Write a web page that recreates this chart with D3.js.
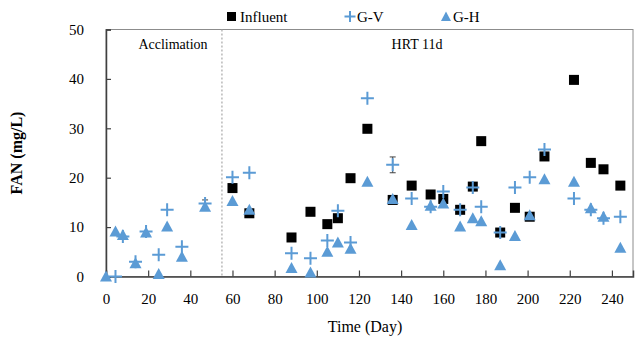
<!DOCTYPE html>
<html>
<head>
<meta charset="utf-8">
<script src="https://cdn.jsdelivr.net/npm/d3@7"></script>
<style>
  body { margin: 0; background: #fff; }
</style>
</head>
<body>
<figure id="chart" style="margin:0"></figure>
<script>
// Influent FAN (only measured in the HRT 11d phase)
const influentDay = [60, 68, 88, 97, 105, 110, 116, 124, 136, 145, 154, 160, 168, 174, 178, 187, 194, 201, 208, 222, 230, 236, 244];
const influentVal = [17.9, 12.8, 7.9, 13.1, 10.6, 11.8, 19.9, 29.9, 15.5, 18.4, 16.6, 15.7, 13.5, 18.2, 27.4, 8.9, 13.9, 12.1, 24.3, 39.8, 23.0, 21.7, 18.4];

// G-V reactor
const gvDay = [4.5, 8, 14, 19, 25, 29, 36, 47, 60, 68, 88, 97, 105, 110, 116, 124, 136, 145, 154, 160, 168, 174, 178, 187, 194, 201, 208, 222, 230, 236, 244];
const gvVal = [0, 8.1, 3.0, 9.1, 4.4, 13.5, 6.0, 14.8, 20.1, 21.0, 4.7, 3.7, 7.3, 13.3, 6.9, 36.1, 22.6, 15.8, 14.1, 17.2, 13.5, 18.0, 14.1, 8.9, 18.0, 20.1, 25.7, 15.8, 13.5, 11.8, 12.1];

// G-H reactor
const ghDay = [0, 4.5, 8, 14, 19, 25, 29, 36, 47, 60, 68, 88, 97, 105, 110, 116, 124, 136, 145, 154, 160, 168, 174, 178, 187, 194, 201, 208, 222, 230, 236, 244];
const ghVal = [0, 9.1, 8.4, 2.7, 8.9, 0.5, 10.1, 4.0, 14.1, 15.3, 13.5, 1.7, 0.8, 5.0, 6.9, 5.6, 19.2, 15.7, 10.4, 14.3, 14.8, 10.1, 11.8, 11.2, 2.3, 8.2, 12.4, 19.7, 19.2, 13.8, 12.1, 5.8];

// visible error bars (day, value, +/-)
const gvErrDay = [136, 47];
const gvErrVal = [22.6, 14.8];
const gvErr = [1.6, 0.7];

const xTicks = [0, 20, 40, 60, 80, 100, 120, 140, 160, 180, 200, 220, 240];
const yTicks = [0, 10, 20, 30, 40, 50];
const phaseSplit = 55;

const width = 638, height = 341;
const blue = '#5b9bd5';
const serif = '"Liberation Serif", "Times New Roman", serif';

const svg = d3.select('#chart').append('svg')
  .attr('width', width)
  .attr('height', height)
  .attr('font-family', serif);

const x = d3.scaleLinear().domain([0, 250]).range([106, 633]);
const y = d3.scaleLinear().domain([0, 50]).range([276.5, 29.5]);

// plot area border
svg.append('rect')
  .attr('x', x(0)).attr('y', y(50))
  .attr('width', x(250) - x(0)).attr('height', y(0) - y(50))
  .attr('fill', 'none').attr('stroke', '#8c8c8c').attr('stroke-width', 1);

// phase divider
svg.append('line')
  .attr('x1', x(phaseSplit)).attr('x2', x(phaseSplit))
  .attr('y1', y(50)).attr('y2', y(0))
  .attr('stroke', '#a6a6a6').attr('stroke-width', 1.2)
  .attr('stroke-dasharray', '2,2');

// axes
const xAxis = svg.append('g')
  .attr('transform', 'translate(0,' + y(0) + ')')
  .call(d3.axisBottom(x).tickValues(xTicks).tickSize(-6).tickPadding(17));
const yAxis = svg.append('g')
  .attr('transform', 'translate(' + x(0) + ',0)')
  .call(d3.axisLeft(y).tickValues(yTicks).tickSize(-5).tickPadding(22));
[xAxis, yAxis].forEach(a => {
  a.attr('font-family', serif);
  a.select('.domain').attr('stroke', '#404040').attr('stroke-width', 1.5);
  a.selectAll('.tick line').attr('stroke', '#404040').attr('stroke-width', 1.2);
  a.selectAll('text').style('font-family', serif).style('font-size', '15px').attr('fill', '#000');
});

// error bars
const eb = svg.append('g').attr('stroke', '#404040').attr('stroke-width', 1);
gvErrDay.forEach((d, i) => {
  const cx = x(d), lo = y(gvErrVal[i] - gvErr[i]), hi = y(gvErrVal[i] + gvErr[i]);
  eb.append('line').attr('x1', cx).attr('x2', cx).attr('y1', lo).attr('y2', hi);
  eb.append('line').attr('x1', cx - 3).attr('x2', cx + 3).attr('y1', lo).attr('y2', lo);
  eb.append('line').attr('x1', cx - 3).attr('x2', cx + 3).attr('y1', hi).attr('y2', hi);
});

// Influent squares
svg.append('g').selectAll('rect')
  .data(influentDay)
  .enter()
  .append('rect')
  .attr('x', (d) => x(d) - 5)
  .attr('y', (d, i) => y(influentVal[i]) - 5)
  .attr('width', 10).attr('height', 10)
  .attr('fill', '#000');

// G-V plus markers
svg.append('g').selectAll('path')
  .data(gvDay)
  .enter()
  .append('path')
  .attr('d', 'M-6.5,0H6.5M0,-6.5V6.5')
  .attr('transform', (d, i) => 'translate(' + x(d) + ',' + y(gvVal[i]) + ')')
  .attr('stroke', blue).attr('stroke-width', 2).attr('fill', 'none');

// G-H triangles
svg.append('g').selectAll('path')
  .data(ghDay)
  .enter()
  .append('path')
  .attr('d', 'M0,-6L6,5H-6Z')
  .attr('transform', (d, i) => 'translate(' + x(d) + ',' + y(ghVal[i]) + ')')
  .attr('fill', blue);

// phase labels
svg.append('text').attr('x', 173).attr('y', 49)
  .attr('text-anchor', 'middle').style('font-size', '14px').text('Acclimation');
svg.append('text').attr('x', 417).attr('y', 49)
  .attr('text-anchor', 'middle').style('font-size', '14px').text('HRT 11d');

// legend
const legend = svg.append('g').style('font-size', '15px');
legend.append('rect').attr('x', 227).attr('y', 12).attr('width', 9).attr('height', 9).attr('fill', '#000');
legend.append('text').attr('x', 240).attr('y', 21.5).text('Influent');
legend.append('path').attr('d', 'M-5.5,0H5.5M0,-5.5V5.5')
  .attr('transform', 'translate(350,16.5)').attr('stroke', blue).attr('stroke-width', 2);
legend.append('text').attr('x', 357).attr('y', 21.5).text('G-V');
legend.append('path').attr('d', 'M0,-5L5,4.5H-5Z')
  .attr('transform', 'translate(446,16.5)').attr('fill', blue);
legend.append('text').attr('x', 453).attr('y', 21.5).text('G-H');

// axis titles
svg.append('text')
  .attr('x', 365).attr('y', 332)
  .attr('text-anchor', 'middle').style('font-size', '16px')
  .text('Time (Day)');
svg.append('text')
  .attr('transform', 'translate(22,153) rotate(-90)')
  .attr('text-anchor', 'middle').style('font-size', '16px').style('font-weight', 'bold')
  .text('FAN (mg/L)');
</script>
</body>
</html>
